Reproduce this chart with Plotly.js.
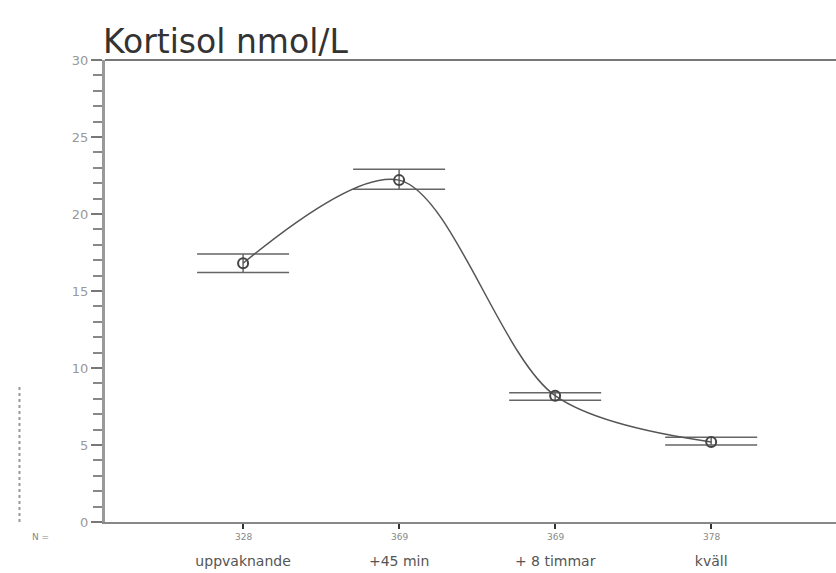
<!DOCTYPE html>
<html>
<head>
<meta charset="utf-8">
<script src="https://cdn.plot.ly/plotly-3.0.1.min.js"></script>
<style>html,body{margin:0;padding:0;background:#fff;}#chart{width:836px;height:573px;}</style>
</head>
<body>
<div id="chart"></div>
<script>
const categories = ["uppvaknande", "+45 min", "+ 8 timmar", "kväll"];
const positions = [1, 2, 3, 4];
const nValues = ["328", "369", "369", "378"];
const meanValues = [16.8, 22.2, 8.2, 5.2];
const upperErr = [0.6, 0.7, 0.2, 0.3];
const lowerErr = [0.6, 0.6, 0.3, 0.2];
const yTicks = [0, 5, 10, 15, 20, 25, 30];

const trace = {
  x: positions,
  y: meanValues,
  type: "scatter",
  mode: "lines+markers",
  line: {color: "#555", width: 1.5, shape: "spline", smoothing: 0.9},
  marker: {symbol: "circle-open", size: 10, color: "#444", line: {width: 2, color: "#444"}},
  error_y: {type: "data", symmetric: false, array: upperErr, arrayminus: lowerErr,
            width: 46, thickness: 1.5, color: "#666"},
  hoverinfo: "x+y",
  showlegend: false
};

const annotations = positions.map((p, i) => ({
  x: p, xref: "x", y: -0.033, yref: "paper", text: nValues[i], showarrow: false,
  font: {family: "DejaVu Sans", size: 9, color: "#888"}, xanchor: "center", yanchor: "middle"
}));
annotations.push({
  x: -0.088, xref: "paper", y: -0.033, yref: "paper", text: "N =", showarrow: false,
  font: {family: "DejaVu Sans", size: 9, color: "#888"}, xanchor: "center", yanchor: "middle"
});

const layout = {
  width: 836, height: 573,
  margin: {l: 105, r: 0, t: 60, b: 51, pad: 0},
  paper_bgcolor: "#fff", plot_bgcolor: "#fff",
  title: {text: "Kortisol nmol/L", x: 103/836, xanchor: "left", y: 0.927, yanchor: "middle",
          font: {family: "DejaVu Sans", size: 33, color: "#333"}},
  xaxis: {
    range: [0.115, 4.80], showgrid: false, zeroline: false,
    tickmode: "array", tickvals: positions, ticktext: categories,
    ticks: "outside", ticklen: 5, tickwidth: 2, tickcolor: "#333",
    ticklabelstandoff: 20,
    tickfont: {family: "DejaVu Sans", size: 14, color: "#555"},
    showline: true, linecolor: "#888", linewidth: 2, mirror: false
  },
  yaxis: {
    range: [0, 30], showgrid: false, zeroline: false,
    tickmode: "array", tickvals: yTicks,
    ticks: "outside", ticklen: 11, tickwidth: 2, tickcolor: "#777",
    minor: {dtick: 1, ticks: "outside", ticklen: 9, tickwidth: 2, tickcolor: "#888"},
    tickfont: {family: "DejaVu Sans", size: 13, color: "#999"},
    showline: true, linecolor: "#999", linewidth: 3
  },
  shapes: [
    {type: "line", xref: "paper", yref: "paper", x0: 0, x1: 1, y0: 1, y1: 1,
     line: {color: "#777", width: 2}},
    {type: "line", xref: "paper", yref: "paper", x0: -0.117, x1: -0.117, y0: 0, y1: 0.295,
     line: {color: "#999", width: 2, dash: "dot"}}
  ],
  annotations: annotations
};

Plotly.newPlot("chart", [trace], layout, {displayModeBar: false, staticPlot: true});
</script>
</body>
</html>
